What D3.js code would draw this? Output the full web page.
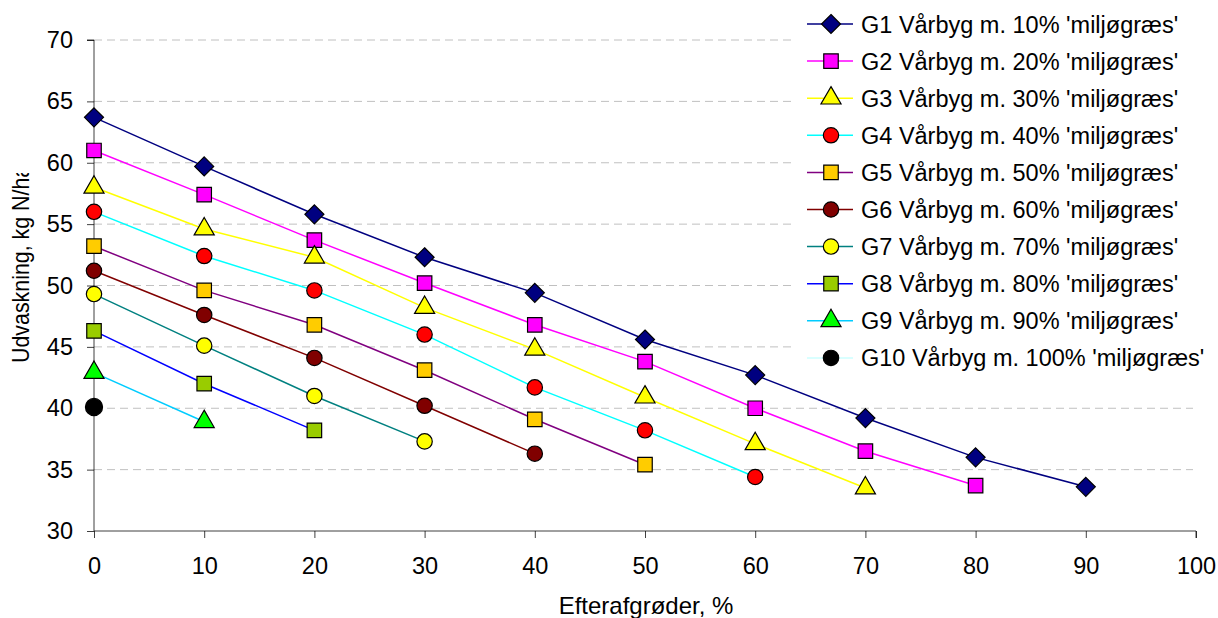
<!DOCTYPE html>
<html><head><meta charset="utf-8">
<script src="https://cdn.jsdelivr.net/npm/d3@7"></script>
<style>body{margin:0;background:#fff;} svg{display:block;font-family:Arial,"Liberation Sans",sans-serif;}</style>
</head><body><svg id="c" width="1218" height="618"></svg>
<script>
const xTicks = [0,10,20,30,40,50,60,70,80,90,100];
const yTicks = [30,35,40,45,50,55,60,65,70];
const seriesNames = ["G1 Vårbyg m. 10% 'miljøgræs'","G2 Vårbyg m. 20% 'miljøgræs'","G3 Vårbyg m. 30% 'miljøgræs'","G4 Vårbyg m. 40% 'miljøgræs'","G5 Vårbyg m. 50% 'miljøgræs'","G6 Vårbyg m. 60% 'miljøgræs'","G7 Vårbyg m. 70% 'miljøgræs'","G8 Vårbyg m. 80% 'miljøgræs'","G9 Vårbyg m. 90% 'miljøgræs'","G10 Vårbyg m. 100% 'miljøgræs'"];
const g1 = [63.7,59.7,55.8,52.3,49.4,45.6,42.7,39.2,36.0,33.6];
const g2 = [61.0,57.4,53.7,50.2,46.8,43.8,40.0,36.5,33.7];
const g3 = [58.0,54.6,52.3,48.2,44.8,40.9,37.1,33.5];
const g4 = [56.0,52.4,49.6,46.0,41.7,38.2,34.4];
const g5 = [53.2,49.6,46.8,43.1,39.1,35.4];
const g6 = [51.2,47.6,44.1,40.2,36.3];
const g7 = [49.3,45.1,41.0,37.3];
const g8 = [46.3,42.0,38.2];
const g9 = [42.9,38.9];
const g10 = [40.1];
const seriesValues = [g1,g2,g3,g4,g5,g6,g7,g8,g9,g10];
const lineColors = ["#000080","#FF00FF","#FFFF00","#00FFFF","#800080","#800000","#008080","#0000FF","#00CCFF","#CCFFFF"];
const markerFill = ["#000080","#FF00FF","#FFFF00","#FF0000","#FFCC00","#800000","#FFFF00","#99CC00","#00FF00","#000000"];
const markerShape = ["diamond","square","triangle","circle","square","circle","circle","square","triangle","circle"];

const FS = 23.5;
const svg = d3.select("#c");
const x = d3.scaleLinear().domain([0,100]).range([94,1196]);
const y = d3.scaleLinear().domain([30,70]).range([531,40]);

// grid
svg.append("g").selectAll("line").data(yTicks.filter(d=>d>30)).join("line")
  .attr("x1",x(0)).attr("x2",x(100)-3).attr("y1",d=>y(d)).attr("y2",d=>y(d))
  .attr("stroke","#c0c0c0").attr("stroke-width",1).attr("stroke-dasharray","8,5");

// axes
const ya = svg.append("g").attr("transform",`translate(${x(0)},0)`)
  .call(d3.axisLeft(y).tickValues(yTicks).tickSize(7).tickPadding(14));
const xa = svg.append("g").attr("transform",`translate(0,${y(30)})`)
  .call(d3.axisBottom(x).tickValues(xTicks).tickSize(7).tickPadding(19));
[ya,xa].forEach(a=>{
  a.attr("font-size",FS).attr("font-family","Arial,'Liberation Sans',sans-serif");
  a.select(".domain").attr("stroke","#000").attr("stroke-width",1).attr("stroke-opacity",0.75);
  a.selectAll(".tick line").attr("stroke","#000").attr("stroke-opacity",0.75);
  a.selectAll("text").attr("fill","#000");
});
ya.select(".domain").attr("d",`M-7,${y(70)}H0V${y(30)}`);
xa.select(".domain").attr("d",`M${x(0)},0H${x(100)}V7`);

function pathFor(shape, k){
  if(shape==="diamond"){ const r=9.5; return `M0,${-r}L${r},0L0,${r}L${-r},0Z`; }
  if(shape==="square") return d3.symbol(d3.symbolSquare, 210)();
  if(shape==="triangle") return d3.symbol(d3.symbolTriangle, 175)();
  return d3.symbol(d3.symbolCircle, k===9?230:185)();
}

const line = d3.line().x((d,i)=>x(xTicks[i])).y(d=>y(d));
seriesValues.forEach((vals,k)=>{
  svg.append("path").datum(vals).attr("d",line).attr("fill","none")
    .attr("stroke",lineColors[k]).attr("stroke-width",1.5);
});
seriesValues.forEach((vals,k)=>{
  svg.append("g").selectAll("path").data(vals).join("path")
    .attr("transform",(d,i)=>`translate(${x(xTicks[i])},${y(d)})`)
    .attr("d",pathFor(markerShape[k],k))
    .attr("fill",markerFill[k]).attr("stroke","#000").attr("stroke-width",1.2);
});

// legend
const lg = svg.append("g");
lg.append("rect").attr("x",795).attr("y",0).attr("width",423).attr("height",376).attr("fill","#fff");
seriesNames.forEach((n,k)=>{
  const cy = 24 + k*37.1;
  lg.append("line").attr("x1",807).attr("x2",853).attr("y1",cy).attr("y2",cy).attr("stroke",lineColors[k]).attr("stroke-width",1.5);
  lg.append("path").attr("transform",`translate(831,${cy})`).attr("d",pathFor(markerShape[k],k===9?-1:k))
    .attr("fill",markerFill[k]).attr("stroke","#000").attr("stroke-width",1.2);
  lg.append("text").attr("x",861).attr("y",cy+8.5).attr("font-size",FS).text(n);
});

// axis titles
svg.append("defs").append("clipPath").attr("id","yc").append("rect").attr("x",0).attr("y",173).attr("width",60).attr("height",320);
svg.append("g").attr("clip-path","url(#yc)").append("text")
  .attr("transform","translate(29,363) rotate(-90) scale(0.91,1)")
  .attr("font-size",23.5).text("Udvaskning, kg N/ha");
svg.append("text").attr("x",646).attr("y",614).attr("text-anchor","middle").attr("font-size",24).text("Efterafgrøder, %");
</script></body></html>
